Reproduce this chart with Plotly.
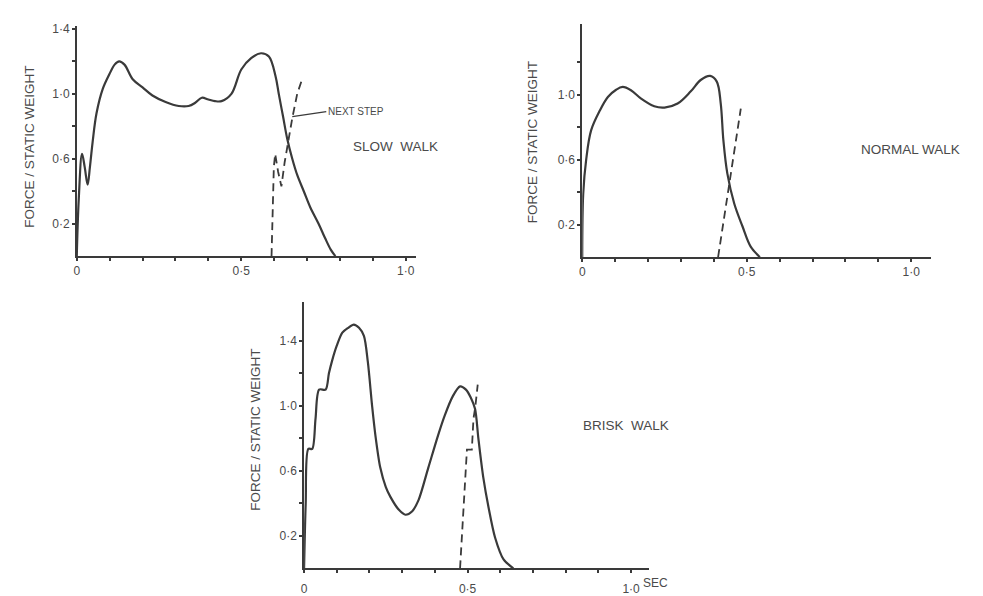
import plotly.graph_objects as go

# ---------------- data ----------------
slow_t = [0, 0.006, 0.016, 0.024, 0.033, 0.04, 0.048, 0.06, 0.079, 0.099, 0.115, 0.129, 0.145, 0.17, 0.2, 0.23, 0.27,
          0.31, 0.34, 0.36, 0.38, 0.40, 0.42, 0.44, 0.47, 0.50, 0.53, 0.56, 0.584, 0.604, 0.614, 0.627, 0.64, 0.655,
          0.67, 0.69, 0.71, 0.735, 0.755, 0.772, 0.786]
slow_f = [0, 0.35, 0.63, 0.55, 0.44, 0.55, 0.70, 0.88, 1.03, 1.12, 1.18, 1.20, 1.18, 1.09, 1.04, 0.99, 0.95,
          0.925, 0.925, 0.945, 0.976, 0.965, 0.955, 0.955, 1.0, 1.15, 1.22, 1.25, 1.23, 1.11, 1.0, 0.86, 0.72, 0.6,
          0.5, 0.4, 0.3, 0.2, 0.11, 0.04, 0.0]
slow_next_t = [0.592, 0.599, 0.603, 0.612, 0.622, 0.632, 0.644, 0.655, 0.67, 0.685]
slow_next_f = [0.0, 0.55, 0.63, 0.52, 0.43, 0.58, 0.72, 0.85, 1.0, 1.09]

normal_t = [0, 0.003, 0.012, 0.027, 0.053, 0.078, 0.103, 0.123, 0.148, 0.179, 0.219, 0.25, 0.29, 0.33, 0.36, 0.389,
            0.409, 0.421, 0.429, 0.441, 0.462, 0.487, 0.512, 0.54]
normal_f = [0, 0.39, 0.6, 0.78, 0.90, 0.985, 1.03, 1.047, 1.027, 0.975, 0.928, 0.92, 0.945, 1.02, 1.09, 1.115,
            1.08, 0.945, 0.72, 0.515, 0.33, 0.19, 0.065, 0.0]
normal_next_t = [0.413, 0.482]
normal_next_f = [0.0, 0.914]

brisk_t = [0, 0.005, 0.013, 0.025, 0.035, 0.046, 0.066, 0.076, 0.086, 0.1, 0.117, 0.135, 0.152, 0.168, 0.183, 0.195,
           0.208, 0.218, 0.233, 0.25, 0.264, 0.29, 0.31, 0.33, 0.35, 0.38, 0.41, 0.43, 0.455, 0.477, 0.495, 0.51,
           0.523, 0.533, 0.548, 0.564, 0.584, 0.61, 0.64]
brisk_f = [0, 0.4, 0.735, 0.735, 0.92, 1.10, 1.10, 1.2, 1.28, 1.37, 1.45, 1.48, 1.50, 1.48, 1.43, 1.27,
           1.0, 0.82, 0.62, 0.5, 0.44, 0.36, 0.33, 0.35, 0.42, 0.62, 0.82, 0.94, 1.06, 1.12, 1.10, 1.05,
           0.98, 0.80, 0.56, 0.376, 0.19, 0.055, 0.0]
brisk_next_t = [0.477, 0.498, 0.513, 0.518, 0.524, 0.531]
brisk_next_f = [0.0, 0.73, 0.73, 0.92, 1.0, 1.13]

x_ticks = [0.1 * i for i in range(11)]
x_text = ["0", "", "", "", "", "0·5", "", "", "", "", "1·0"]
y_ticks = [0.2, 0.4, 0.6, 0.8, 1.0, 1.2, 1.4]
y_text = ["0·2", "", "0·6", "", "1·0", "", "1·4"]
y_ticks_normal = [0.2, 0.4, 0.6, 0.8, 1.0, 1.2]
y_text_normal = ["0·2", "", "0·6", "", "1·0", ""]

titles = ["SLOW  WALK", "NORMAL WALK", "BRISK  WALK"]
y_title = "FORCE / STATIC WEIGHT"
time_unit = "SEC"

# ---------------- figure ----------------
W, H = 983, 596
INK = "#3a3a3a"
TXT = "#4a4a4a"
FONT = "Liberation Sans"

def px(x):
    return x / W

def py(y):
    return 1 - y / H

fig = go.Figure()
solid = dict(color=INK, width=2.2)
dashed = dict(color=INK, width=1.8, dash="8px,5px")

fig.add_trace(go.Scatter(x=slow_t, y=slow_f, mode="lines", line=dict(**solid, shape="spline", smoothing=1.0),
                         xaxis="x", yaxis="y", showlegend=False))
fig.add_trace(go.Scatter(x=slow_next_t, y=slow_next_f, mode="lines", line=dashed,
                         xaxis="x", yaxis="y", showlegend=False))
fig.add_trace(go.Scatter(x=normal_t, y=normal_f, mode="lines", line=dict(**solid, shape="spline", smoothing=1.0),
                         xaxis="x2", yaxis="y2", showlegend=False))
fig.add_trace(go.Scatter(x=normal_next_t, y=normal_next_f, mode="lines", line=dashed,
                         xaxis="x2", yaxis="y2", showlegend=False))
fig.add_trace(go.Scatter(x=brisk_t, y=brisk_f, mode="lines", line=dict(**solid, shape="spline", smoothing=0.8),
                         xaxis="x3", yaxis="y3", showlegend=False))
fig.add_trace(go.Scatter(x=brisk_next_t, y=brisk_next_f, mode="lines", line=dashed,
                         xaxis="x3", yaxis="y3", showlegend=False))

axis_common = dict(showgrid=False, zeroline=False, showline=True, linecolor=INK, linewidth=1.6,
                   ticks="outside", ticklen=3, tickwidth=1.5, tickcolor=INK,
                   tickfont=dict(family=FONT, size=12, color=TXT), fixedrange=True)

fig.update_layout(
    width=W, height=H,
    margin=dict(l=0, r=0, t=0, b=0),
    paper_bgcolor="white", plot_bgcolor="white",
    xaxis=dict(**axis_common, domain=[px(74), px(74 + 1.03 * 330)], range=[0, 1.03],
               tickvals=x_ticks, ticktext=x_text, anchor="y"),
    yaxis=dict(**axis_common, domain=[py(256), py(22)], range=[0, 1.42],
               tickvals=y_ticks, ticktext=y_text, anchor="x"),
    xaxis2=dict(**axis_common, domain=[px(581), px(581 + 1.06 * 330)], range=[0, 1.06],
                tickvals=x_ticks, ticktext=x_text, anchor="y2"),
    yaxis2=dict(**axis_common, domain=[py(257), py(20)], range=[0, 237 / 165],
                tickvals=y_ticks_normal, ticktext=y_text_normal, anchor="x2"),
    xaxis3=dict(**axis_common, domain=[px(302), px(302 + 1.055 * 328)], range=[0, 1.055],
                tickvals=x_ticks, ticktext=x_text, anchor="y3", ticklabelstandoff=5),
    yaxis3=dict(**axis_common, domain=[py(573), py(303)], range=[0, 270 / 165],
                tickvals=y_ticks, ticktext=y_text, anchor="x3"),
)

ann_font = dict(family=FONT, size=13.5, color=TXT)
annotations = [
    dict(x=px(27), y=py(145), text=y_title, textangle=-90),
    dict(x=px(532), y=py(140), text=y_title, textangle=-90),
    dict(x=px(253), y=py(432), text=y_title, textangle=-90),
    dict(x=px(394), y=py(145), text=titles[0]),
    dict(x=px(910), y=py(148), text=titles[1]),
    dict(x=px(625), y=py(428), text=titles[2]),
]
for a in annotations:
    fig.add_annotation(xref="paper", yref="paper", showarrow=False, font=ann_font,
                       xanchor="center", yanchor="middle", **a)

fig.add_annotation(xref="x3", yref="paper", x=1.03, y=0, text=time_unit, showarrow=False,
                   xanchor="left", yanchor="bottom", yshift=-1, font=dict(family=FONT, size=12, color=TXT))

fig.add_annotation(xref="x", yref="y", x=0.655, y=0.86, text="NEXT STEP", showarrow=True,
                   arrowhead=0, arrowwidth=1.2, arrowcolor=INK, ax=34, ay=-5, xanchor="left",
                   font=dict(family=FONT, size=10, color=TXT))

fig.write_html("out.html")
